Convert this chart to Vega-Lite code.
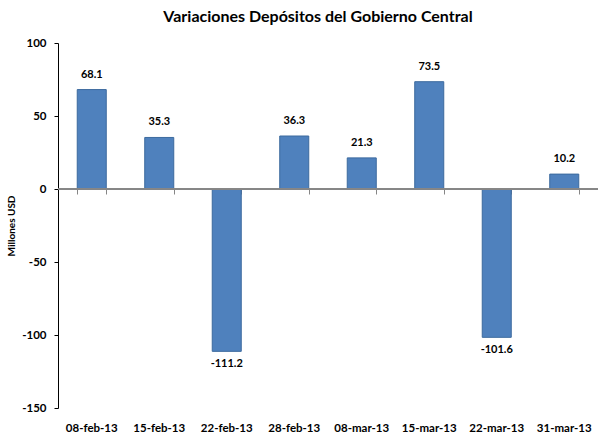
{
  "$schema": "https://vega.github.io/schema/vega-lite/v6.json",
  "autosize": {"type": "none"},
  "width": 540,
  "height": 365,
  "padding": {"left": 58, "top": 43, "right": 0, "bottom": 28},
  "background": "white",
  "title": {
    "text": "Variaciones Depósitos del Gobierno Central",
    "font": "Lato",
    "fontSize": 16,
    "fontWeight": "bold",
    "color": "#000000",
    "anchor": "middle",
    "frame": "group",
    "dx": -10,
    "offset": 12
  },
  "config": {
    "view": {"stroke": null},
    "font": "Lato",
    "locale": {
      "number": {"decimal": ".", "thousands": ",", "grouping": [3], "currency": ["$", ""], "minus": "-"}
    }
  },
  "data": {
    "values": [
      {"fecha": "08-feb-13", "valor": 68.1},
      {"fecha": "15-feb-13", "valor": 35.3},
      {"fecha": "22-feb-13", "valor": -111.2},
      {"fecha": "28-feb-13", "valor": 36.3},
      {"fecha": "08-mar-13", "valor": 21.3},
      {"fecha": "15-mar-13", "valor": 73.5},
      {"fecha": "22-mar-13", "valor": -101.6},
      {"fecha": "31-mar-13", "valor": 10.2}
    ]
  },
  "layer": [
    {
      "mark": {"type": "bar", "color": "#4F81BD", "stroke": "#3C6A9E", "strokeWidth": 1},
      "encoding": {
        "x": {
          "field": "fecha", "type": "nominal", "sort": null,
          "scale": {"paddingInner": 0.57, "paddingOuter": 0.285},
          "axis": {
            "title": null, "labelAngle": 0, "domain": false, "ticks": false,
            "labelPadding": 14, "labelFontSize": 11.5, "labelFontWeight": "bold",
            "labelColor": "#000000", "labelFont": "Lato"
          }
        },
        "y": {
          "field": "valor", "type": "quantitative",
          "scale": {"domain": [-150, 100], "nice": false},
          "axis": {
            "title": "Millones USD", "titleFontSize": 10, "titleFontWeight": "bold",
            "titleColor": "#000000", "titleFont": "Lato", "titlePadding": 5,
            "values": [-150, -100, -50, 0, 50, 100],
            "grid": false, "domainColor": "#000000", "tickColor": "#000000",
            "tickSize": 4, "labelFontSize": 11.5, "labelFontWeight": "bold",
            "labelColor": "#000000", "labelFont": "Lato", "labelPadding": 8
          }
        }
      }
    },
    {
      "mark": {"type": "rule", "color": "#868686", "strokeWidth": 1},
      "encoding": {
        "y": {"datum": 0, "type": "quantitative"}
      }
    },
    {
      "mark": {"type": "rule", "opacity": 0},
      "encoding": {
        "x": {
          "field": "fecha", "type": "nominal", "sort": null,
          "axis": {
            "orient": "bottom", "offset": -219, "labels": false, "title": null,
            "ticks": true, "tickBand": "extent", "tickColor": "#868686", "tickSize": 5,
            "domain": true, "domainColor": "#868686"
          }
        },
        "y": {"datum": 0, "type": "quantitative"}
      }
    },
    {
      "transform": [{"filter": "datum.valor >= 0"}],
      "mark": {"type": "text", "dy": -15, "fontSize": 11, "fontWeight": "bold", "font": "Lato", "color": "#000000"},
      "encoding": {
        "x": {"field": "fecha", "type": "nominal", "sort": null, "axis": null},
        "y": {"field": "valor", "type": "quantitative"},
        "text": {"field": "valor", "type": "quantitative", "format": ".1f"}
      }
    },
    {
      "transform": [{"filter": "datum.valor < 0"}],
      "mark": {"type": "text", "dy": 13, "fontSize": 11, "fontWeight": "bold", "font": "Lato", "color": "#000000"},
      "encoding": {
        "x": {"field": "fecha", "type": "nominal", "sort": null, "axis": null},
        "y": {"field": "valor", "type": "quantitative"},
        "text": {"field": "valor", "type": "quantitative", "format": ".1f"}
      }
    }
  ],
  "resolve": {"axis": {"x": "independent"}}
}
